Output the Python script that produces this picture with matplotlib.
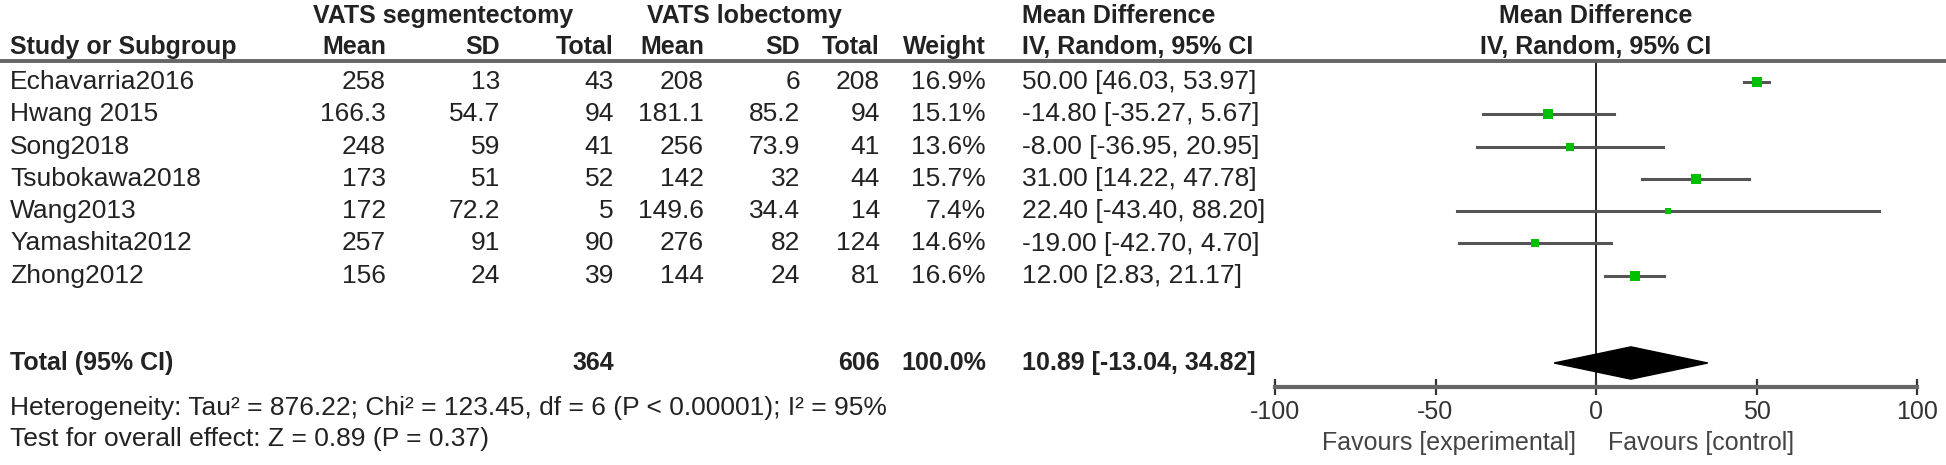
import matplotlib.pyplot as plt
import matplotlib.transforms as mtransforms
from matplotlib.patches import Polygon

plt.rcParams['font.family'] = ['Liberation Sans', 'DejaVu Sans']

studies = ['Echavarria2016', 'Hwang 2015', 'Song2018', 'Tsubokawa2018',
           'Wang2013', 'Yamashita2012', 'Zhong2012']
seg_mean = ['258', '166.3', '248', '173', '172', '257', '156']
seg_sd = ['13', '54.7', '59', '51', '72.2', '91', '24']
seg_n = [43, 94, 41, 52, 5, 90, 39]
lob_mean = ['208', '181.1', '256', '142', '149.6', '276', '144']
lob_sd = ['6', '85.2', '73.9', '32', '34.4', '82', '24']
lob_n = [208, 94, 41, 44, 14, 124, 81]
weight = [16.9, 15.1, 13.6, 15.7, 7.4, 14.6, 16.6]
md = [50.00, -14.80, -8.00, 31.00, 22.40, -19.00, 12.00]
lo = [46.03, -35.27, -36.95, 14.22, -43.40, -42.70, 2.83]
hi = [53.97, 5.67, 20.95, 47.78, 88.20, 4.70, 21.17]
tot_md, tot_lo, tot_hi = 10.89, -13.04, 34.82
tot_seg_n, tot_lob_n = 364, 606
ticks = [-100, -50, 0, 50, 100]
tick_labels = ['-100', '-50', '0', '50', '100']

W, H = 1946, 465
fig = plt.figure(figsize=(W / 100, H / 100), dpi=100)

# row geometry in pixels (from top)
row0, step = 82, 32.3
def yrow(px):
    return (px - row0) / step

line_px = 61
axis_px = 387
ax = fig.add_axes([1275 / W, 1 - axis_px / H, 642 / W, (axis_px - line_px) / H])
ax.set_xlim(-100, 100)
ax.set_ylim(yrow(axis_px), yrow(line_px))
for s in ['top', 'left', 'right']:
    ax.spines[s].set_visible(False)
ax.spines['bottom'].set_color('#666666')
ax.spines['bottom'].set_linewidth(3)
ax.set_yticks([])
ax.set_xticks(ticks)
ax.set_xticklabels(tick_labels)
ax.tick_params(axis='x', direction='inout', length=11, width=1.6, color='#333333',
               labelsize=18, labelcolor='#333333', pad=4)
ax.patch.set_visible(False)

# zero line
ax.axvline(0, color='#222222', lw=1.4, zorder=1)

txt = '#222222'
fs = 19
fsb = 18
for i in range(len(studies)):
    ax.plot([lo[i], hi[i]], [i, i], color='#555555', lw=2.2, zorder=2, clip_on=False)
    ax.plot(md[i], i, marker='s', color='#00c000', ms=1.5 + weight[i] * 0.34, zorder=3,
            markeredgewidth=0)

yt = yrow(363)
diamond = Polygon([[tot_lo, yt], [tot_md, yt - 0.5], [tot_hi, yt], [tot_md, yt + 0.5]],
                  closed=True, color='black', zorder=3)
ax.add_patch(diamond)

tr = mtransforms.blended_transform_factory(fig.transFigure, ax.transData)

def put(xpx, ypx, s, ha='left', bold=False, color=txt, size=None):
    if size is None:
        size = fsb if bold else fs
    fig.text(xpx / W, yrow(ypx), s, transform=tr, ha=ha, va='center', fontsize=size,
             fontweight='bold' if bold else 'normal', color=color, clip_on=False)

# headers
put(313, 16, 'VATS segmentectomy', bold=True)
put(647, 16, 'VATS lobectomy', bold=True)
put(1022, 16, 'Mean Difference', bold=True)
put(1596, 16, 'Mean Difference', ha='center', bold=True)
put(10, 47, 'Study or Subgroup', bold=True)
cols = [386, 500, 614, 704, 800, 880, 986]
for x, h in zip(cols, ['Mean', 'SD', 'Total', 'Mean', 'SD', 'Total', 'Weight']):
    put(x, 47, h, ha='right', bold=True)
put(1022, 47, 'IV, Random, 95% CI', bold=True)
put(1596, 47, 'IV, Random, 95% CI', ha='center', bold=True)

fig.add_artist(plt.Line2D([0, 1], [1 - line_px / H] * 2, color='#666666', lw=2.8))

for i in range(len(studies)):
    y = row0 + step * i
    put(10, y, studies[i])
    vals = [seg_mean[i], seg_sd[i], str(seg_n[i]), lob_mean[i], lob_sd[i],
            str(lob_n[i]), '%.1f%%' % weight[i]]
    for x, v in zip(cols, vals):
        put(x, y, v, ha='right')
    put(1022, y, '%.2f [%.2f, %.2f]' % (md[i], lo[i], hi[i]))

put(10, 363, 'Total (95% CI)', bold=True)
put(cols[2], 363, str(tot_seg_n), ha='right', bold=True)
put(cols[5], 363, str(tot_lob_n), ha='right', bold=True)
put(cols[6], 363, '100.0%', ha='right', bold=True)
put(1022, 363, '%.2f [%.2f, %.2f]' % (tot_md, tot_lo, tot_hi), bold=True)
put(10, 408, 'Heterogeneity: Tau\u00b2 = 876.22; Chi\u00b2 = 123.45, df = 6 (P < 0.00001); I\u00b2 = 95%')
put(10, 439, 'Test for overall effect: Z = 0.89 (P = 0.37)')

put(1576, 443, 'Favours [experimental]', ha='right', color='#444444', size=18)
put(1608, 443, 'Favours [control]', ha='left', color='#444444', size=18)

fig.savefig('out.png', dpi=100)
